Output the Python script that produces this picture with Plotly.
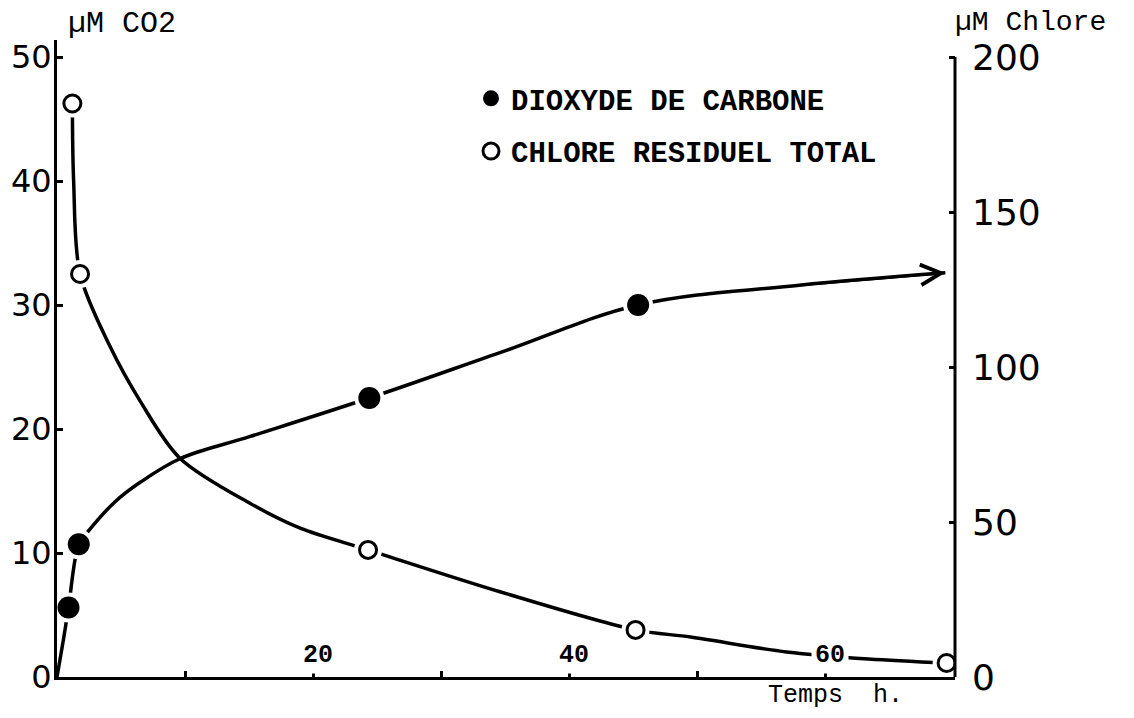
import plotly.graph_objects as go

# ---- data ----
co2_t = [0.9, 1.7, 24.4, 45.4]            # h, measured CO2 points
co2_val = [5.6, 10.7, 22.5, 30.0]         # µM
# drawn CO2 curve, ends with an arrow
co2_curve_t = [0, 0.5, 0.9, 1.7, 2.4, 4.5, 6.5, 9.6, 15.1, 24.4, 35.0, 45.4, 58.0, 69.4]
co2_curve_v = [0, 3.0, 5.6, 10.7, 11.7, 14.1, 15.7, 17.6, 19.4, 22.5, 26.3, 30.0, 31.6, 32.6]

chl_t = [1.2, 1.8, 24.3, 45.2, 69.5]      # h, measured total residual chlorine
chl_val = [185, 130, 41, 15.2, 4.5]       # µM
chl_curve_t = [1.2, 1.3, 1.8, 4.1, 6.5, 9.6, 15.1, 19.0, 24.3, 34.6, 45.2, 49.5, 57.0, 63.4, 69.5]
chl_curve_v = [185, 160, 130, 107, 89, 70.6, 56, 48, 41, 27.5, 15.2, 12.9, 8.1, 5.8, 4.5]

left_ticks = [0, 10, 20, 30, 40, 50]
right_ticks = [0, 50, 100, 150, 200]
x_ticks = [10, 20, 30, 40, 50, 60]
x_tick_labels = [20, 40, 60]

# ---- layout geometry (page pixels) ----
W, H = 1134, 718
O = 8                       # default page body margin
PL, PR, PT, PB = 57, 955, 40, 677


def px(x):
    return (x - PL) / (PR - PL)


def py(y):
    return (PB - y) / (PB - PT)


YMAX = 50 / ((PB - 57) / (PB - PT))   # 50 sits at y=57 px
MONO = "Liberation Mono"
NUM = "DejaVu Sans"

fig = go.Figure()

# curves
fig.add_trace(go.Scatter(x=co2_curve_t, y=co2_curve_v, mode="lines",
                         line=dict(color="black", width=3.5, shape="spline", smoothing=1.0),
                         showlegend=False, hoverinfo="skip"))
fig.add_trace(go.Scatter(x=chl_curve_t, y=chl_curve_v, mode="lines", yaxis="y2",
                         line=dict(color="black", width=3.5, shape="spline", smoothing=0.9),
                         showlegend=False, hoverinfo="skip"))
# white halos giving the small gaps around the points
fig.add_trace(go.Scatter(x=co2_t, y=co2_val, mode="markers",
                         marker=dict(color="white", size=30, line=dict(width=0)),
                         showlegend=False, hoverinfo="skip"))
fig.add_trace(go.Scatter(x=chl_t, y=chl_val, mode="markers", yaxis="y2",
                         marker=dict(color="white", size=28, line=dict(width=0)),
                         showlegend=False, hoverinfo="skip"))
# points
fig.add_trace(go.Scatter(x=co2_t, y=co2_val, mode="markers", name="DIOXYDE DE CARBONE",
                         marker=dict(color="black", size=22, line=dict(width=0)),
                         legendgroup="a"))
fig.add_trace(go.Scatter(x=chl_t, y=chl_val, mode="markers", yaxis="y2",
                         name="CHLORE RESIDUEL TOTAL",
                         marker=dict(color="white", size=17, line=dict(color="black", width=3)),
                         legendgroup="b"))

annotations = []
for v in x_tick_labels:
    annotations.append(dict(x=v + 0.4, xref="x", y=py(655), yref="paper", text=str(v),
                            showarrow=False, bgcolor="white", borderpad=3,
                            xanchor="center", yanchor="middle",
                            font=dict(family=MONO, size=25, color="black", weight="bold")))
annotations += [
    dict(x=px(66), y=py(24), xref="paper", yref="paper", text="µM CO2",
         showarrow=False, xanchor="left", yanchor="middle",
         font=dict(family=MONO, size=30, color="black")),
    dict(x=px(953), y=py(23), xref="paper", yref="paper", text="µM Chlore",
         showarrow=False, xanchor="left", yanchor="middle",
         font=dict(family=MONO, size=28, color="black")),
    dict(x=px(905), y=py(695), xref="paper", yref="paper", text="Temps  h.",
         showarrow=False, xanchor="right", yanchor="middle",
         font=dict(family=MONO, size=25, color="black")),
    # arrow head at the end of the CO2 curve
    dict(x=co2_curve_t[-1], y=co2_curve_v[-1], xref="x", yref="y",
         ax=co2_curve_t[-2], ay=co2_curve_v[-2], axref="x", ayref="y",
         text="", showarrow=True, arrowhead=5, arrowsize=1.6, arrowwidth=2.5,
         arrowcolor="black", standoff=0),
]

shapes = [
    dict(type="line", xref="paper", x0=1, x1=1, yref="y2", y0=0, y1=200,
         line=dict(color="black", width=3)),
]

fig.update_layout(
    width=W - 2 * O, height=H - 2 * O,
    margin=dict(l=PL - O, r=W - O - PR, t=PT - O, b=H - O - PB, pad=0, autoexpand=False),
    paper_bgcolor="white", plot_bgcolor="white",
    showlegend=True,
    legend=dict(x=px(471), y=py(73), xanchor="left", yanchor="top",
                font=dict(family=MONO, size=29, color="black", weight="bold"),
                bgcolor="rgba(0,0,0,0)", tracegroupgap=12, itemsizing="trace"),
    xaxis=dict(range=[0, (PR - PL) / 12.8], showgrid=False, zeroline=False,
               showline=True, linecolor="black", linewidth=3, automargin=False,
               tickvals=x_ticks, ticks="inside", ticklen=6, tickwidth=2.5,
               tickcolor="black", showticklabels=False),
    yaxis=dict(range=[0, YMAX], showgrid=False, zeroline=False, automargin=False,
               showline=True, linecolor="black", linewidth=3,
               tickvals=left_ticks, ticks="inside", ticklen=6, tickwidth=2.5,
               tickcolor="black", ticklabelstandoff=-4,
               tickfont=dict(family=NUM, size=32, color="black")),
    yaxis2=dict(range=[0, YMAX * 4], overlaying="y", side="right", showgrid=False,
                zeroline=False, showline=False, automargin=False,
                tickvals=right_ticks, ticks="inside", ticklen=6, tickwidth=2.5,
                tickcolor="black", ticklabelstandoff=16,
                tickfont=dict(family=NUM, size=36, color="black")),
    annotations=annotations,
    shapes=shapes,
)

fig.write_html("out.html")
